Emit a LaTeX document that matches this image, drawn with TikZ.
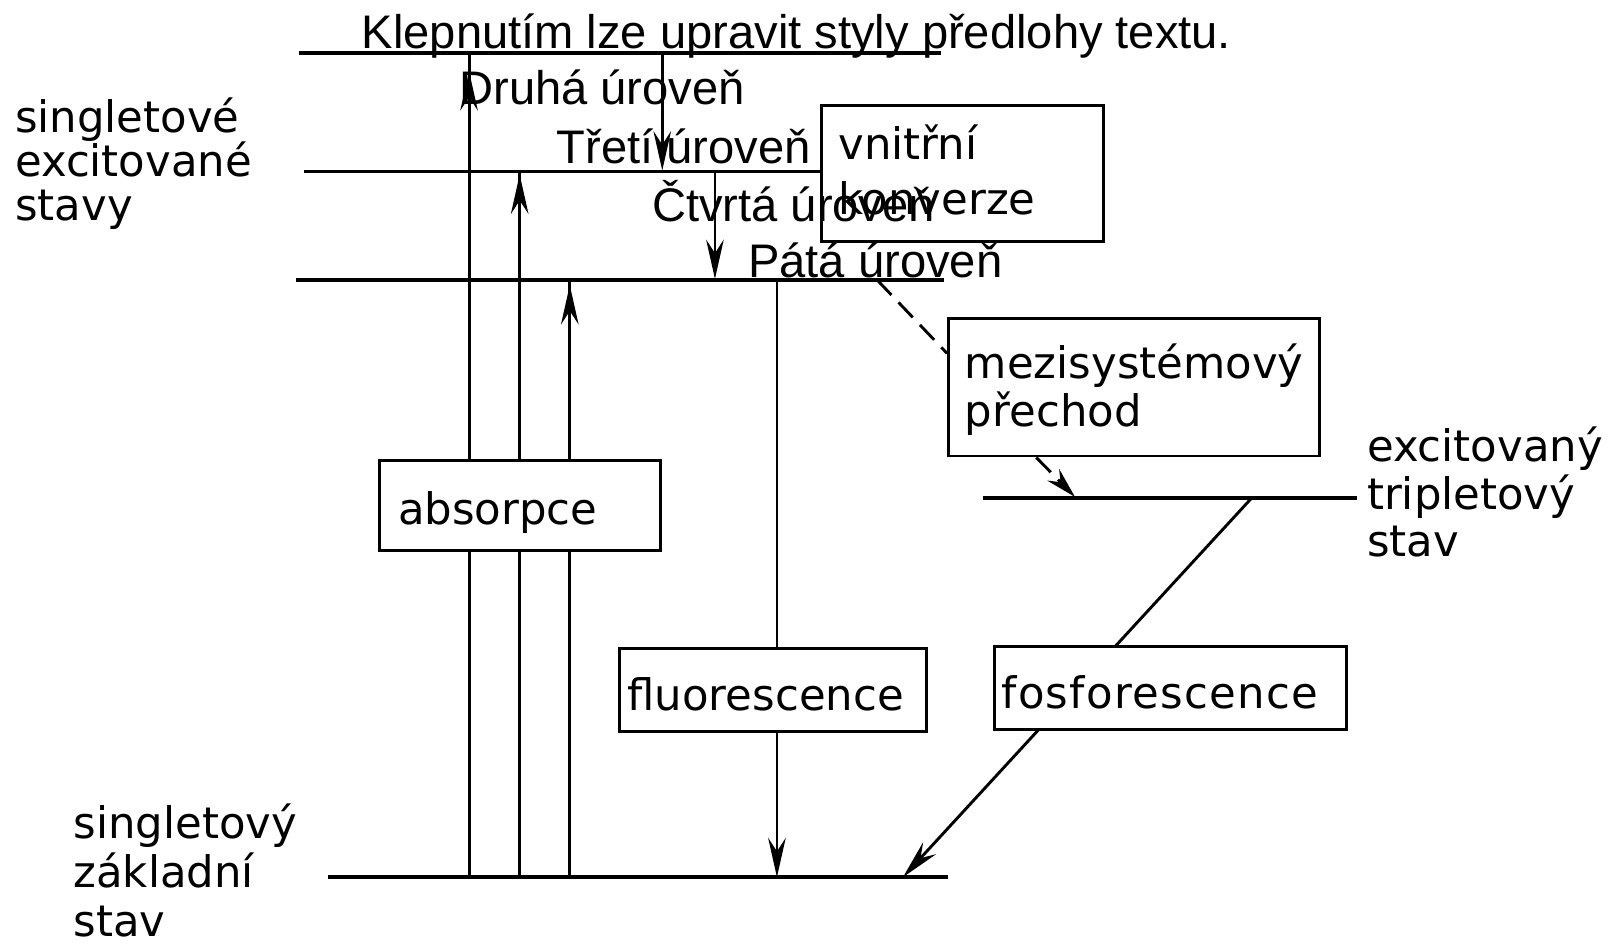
\documentclass[tikz,border=0pt]{standalone}
\usepackage{fontspec}
\setmainfont{DejaVu Sans}
\newfontfamily\pptfam{Liberation Sans}
\usetikzlibrary{arrows.meta}
\newcommand{\mylbl}{\fontsize{42}{46}\selectfont\hyphenpenalty=10000 \exhyphenpenalty=10000 }
\newcommand{\myppt}{\pptfam\fontsize{45.6}{55}\selectfont}
\tikzset{
  lvl/.style={line width=3.8pt},
  vline/.style={line width=2.8pt},
  head/.style={-{Stealth[length=38pt,width=17pt,inset=13pt]}, line width=2.8pt},
  smallhead/.style={-{Stealth[length=30pt,width=16pt,inset=10pt]}, line width=2.8pt},
  boxs/.style={draw, line width=2.8pt, fill=white, inner ysep=0pt, align=left, anchor=north west},
  lbl/.style={inner sep=0pt, align=left, anchor=base west, text width=320pt},
  ppt/.style={inner sep=0pt, anchor=base west, font=\myppt},
  isc/.style={line width=2.8pt, dash pattern=on 20pt off 10pt},
}
\begin{document}
\begin{tikzpicture}[x=1pt,y=-1pt]
\fill[white] (0,0) rectangle (1568,916);
\useasboundingbox (0,0) rectangle (1568,916);

% energy levels
\coordinate (s2l) at (289,51.6);   \coordinate (s2r) at (911,51.6);
\coordinate (s1ul) at (294,166);
\coordinate (s1ll) at (286.6,271); \coordinate (s1lr) at (913.8,271);
\coordinate (t1l) at (951.6,482);  \coordinate (t1r) at (1313,482);
\coordinate (s0l) at (317.6,849);  \coordinate (s0r) at (917.7,849);

\draw[lvl] (s2l) -- (s2r);
\draw[lvl] (s1ll) -- (s1lr);
\draw[lvl] (t1l) -- (t1r);
\draw[lvl] (s0l) -- (s0r);

% absorption
\coordinate (a1b) at (454,849); \coordinate (a1t) at (454,51.6);
\coordinate (a1h) at (454,110); \coordinate (a1p) at (454,69);
\coordinate (a2b) at (503,849); \coordinate (a2t) at (503,166);
\coordinate (a2h) at (503,215); \coordinate (a2p) at (503,169);
\coordinate (a3b) at (551.5,849); \coordinate (a3t) at (551.5,271);
\coordinate (a3h) at (551.5,320); \coordinate (a3p) at (551.5,276);
\draw[vline] (a1b) -- (a1t);
\draw[vline] (a2b) -- (a2t);
\draw[vline] (a3b) -- (a3t);
\draw[head] (a1h) -- (a1p);
\draw[head] (a2h) -- (a2p);
\draw[head] (a3h) -- (a3p);

% internal conversion
\coordinate (ic1t) at (641,51.6); \coordinate (ic1b) at (641,165);
\coordinate (ic2t) at (692,166);  \coordinate (ic2b) at (692,270);
\draw[head] (ic1t) -- (ic1b);
\draw[head] (ic2t) -- (ic2b);

% fluorescence
\coordinate (flt) at (752,271); \coordinate (flb) at (752,849);
\draw[head] (flt) -- (flb);

% phosphorescence
\coordinate (pht) at (1211.5,482); \coordinate (phb) at (874,849);
\draw[head] (pht) -- (phb);

% boxes
\node[boxs, minimum width=272pt, minimum height=87.5pt, inner xsep=18pt, text width=236pt,
      text height=36.5pt, text depth=0pt, font=\mylbl] (abs) at (366,444) {absorpce};
\node[boxs, minimum width=273pt, minimum height=131.6pt, inner xsep=16pt, text width=241pt,
      text height=30pt, text depth=56.8pt, font=\mylbl\fontsize{42}{53}\selectfont] (vk) at (794,100.6) {vnitřní\\konverze};
\node[boxs, minimum width=359.4pt, minimum height=133.5pt, inner xsep=16pt, text width=327.4pt,
      text height=30pt, text depth=47.3pt, font=\mylbl\fontsize{42}{46.4}\selectfont] (mez) at (916.6,306.5) {mezisystémový\\přechod};
\node[boxs, minimum width=297pt, minimum height=80.5pt, inner xsep=8pt, text width=281pt,
      text height=39.5pt, text depth=0pt, font=\mylbl] (flu) at (598,626) {fluorescence};
\node[boxs, minimum width=341pt, minimum height=80.5pt, inner xsep=7.2pt, text width=326.6pt,
      text height=38.9pt, text depth=0pt, font=\mylbl\addfontfeatures{LetterSpace=3}] (fos) at (960.8,624.3) {fosforescence};

% S1 upper level ends at the internal conversion box
\draw[lvl] (s1ul) -- (s1ul -| vk.west);

% intersystem crossing
\coordinate (isct) at (849,271);
\coordinate (iscp) at (1040.5,481);
\draw[isc] (isct) -- ([yshift=-35.5pt]mez.north west);
\draw[isc, smallhead] ([xshift=86.4pt]mez.south west) -- (iscp);

% state labels
\node[lbl, font=\mylbl\fontsize{42}{42.5}\selectfont] (lsx) at (14.5,128) {singletové\\excitované\\stavy};
\node[lbl, font=\mylbl\fontsize{42}{46}\selectfont] (ltr) at (1323,447) {excitovaný\\tripletový\\stav};
\node[lbl, font=\mylbl\fontsize{42}{47}\selectfont] (lsz) at (71,812) {singletový\\základní\\stav};

% slide placeholder text
\node[ppt] (p1) at (350,46.8) {Klepnutím lze upravit styly předlohy textu.};
\node[ppt] (p2) at (444.5,101.6) {Druhá úroveň};
\node[ppt] (p3) at (538.5,158) {Třetí úroveň};
\node[ppt] (p4) at (631,214) {Čtvrtá úroveň};
\node[ppt] (p5) at (724,269) {Pátá úroveň};
\end{tikzpicture}
\end{document}
